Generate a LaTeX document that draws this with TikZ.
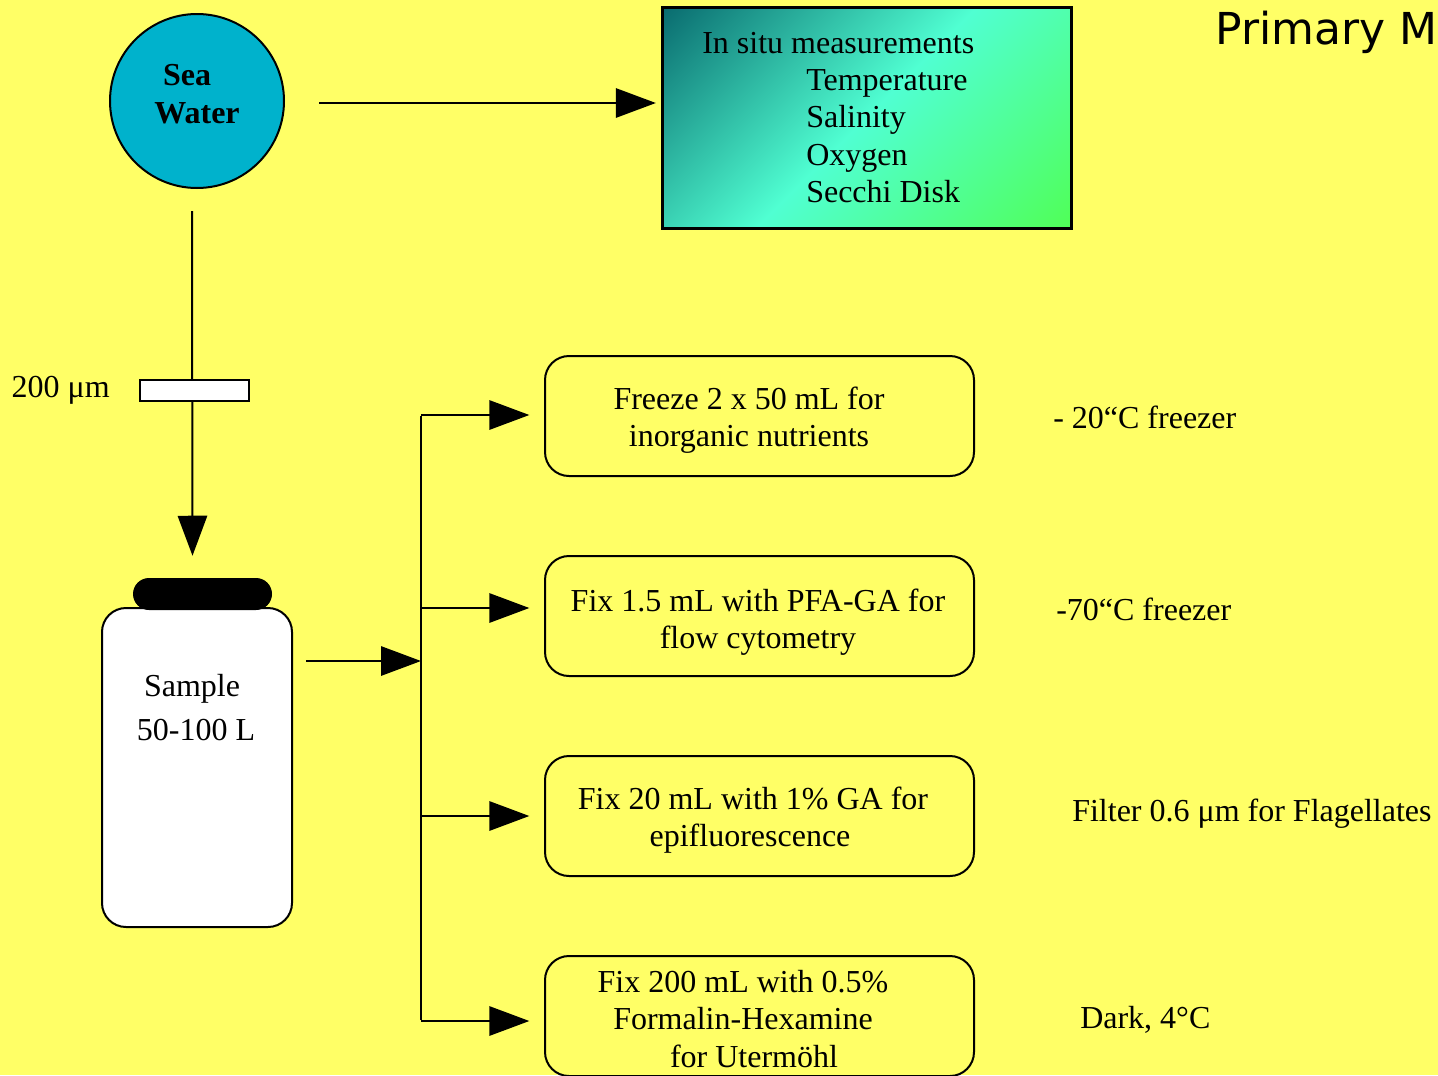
\documentclass[tikz,border=0pt]{standalone}
\usepackage{fontspec}
\setmainfont{Liberation Serif}
\newfontfamily\titlefont{DejaVu Sans}
\usepackage{tikz}
\usetikzlibrary{calc}
\usetikzlibrary{positioning}
\usetikzlibrary{arrows.meta}

\definecolor{slideyellow}{RGB}{255,255,102}
\definecolor{seacyan}{RGB}{0,178,204}
\definecolor{deepteal}{RGB}{0,88,98}
\definecolor{aquamint}{RGB}{80,255,210}
\definecolor{leafgreen}{RGB}{80,255,64}
\pgfdeclareverticalshading{insituglow}{100bp}{color(0bp)=(leafgreen); color(8bp)=(leafgreen); color(50bp)=(aquamint); color(90bp)=(deepteal); color(100bp)=(deepteal)}

\begin{document}
\begin{tikzpicture}[x=0.75pt,y=0.75pt,yscale=-1,xscale=1,
    txt/.style={font=\fontsize{24}{28}\selectfont},
    stepbox/.style={draw, line width=1.5pt, rounded corners=18pt, minimum width=321.75pt,
        minimum height=90pt, inner sep=0pt},
    boxtext/.style={align=center, inner sep=0pt, txt},
    note/.style={anchor=west, inner sep=0pt, txt},
    arr/.style={line width=1.5pt, -{Triangle[length=30pt,width=22pt]}},
    bus/.style={line width=1.5pt}]

    %set diagram size and slide background
    \useasboundingbox (0,0) rectangle (1438,1075);
    \clip (0,0) rectangle (1438,1075);
    \fill [slideyellow] (0,0) rectangle (1438,1075);

    % Title (cut off at the slide edge)
    \node [anchor=base west, inner sep=0pt, font=\titlefont\fontsize{33}{36}\selectfont] (title) at (1215,44) {Primary M};

    % Sea water
    \node [circle, draw, line width=1.5pt, fill=seacyan, minimum size=130.5pt, inner sep=0pt] (sea) at (197,101) {};
    \node [align=center, inner sep=0pt, font=\bfseries\fontsize{24}{28}\selectfont] (seatext) at (197,94) {Sea\hspace*{15pt}\\Water};

    % In situ box
    \node [draw, line width=2.25pt, shade, shading=insituglow, shading angle=45,
        minimum width=306.75pt, minimum height=165.75pt, inner sep=0pt] (insitu) at (866.5,117.5) {};
    \node [anchor=west, inner sep=0pt, align=left, txt] (insitutext) at (702,117.5)
        {In situ measurements\\ \hspace*{78pt}Temperature\\ \hspace*{78pt}Salinity\\
         \hspace*{78pt}Oxygen\\ \hspace*{78pt}Secchi Disk};
    \draw [arr, shorten <=25.5pt, shorten >=3.5pt] ([yshift=1.5pt]sea.east) -- ([yshift=1.5pt]sea.east -| insitu.west);

    % Sample bottle
    \node [draw, line width=1.5pt, fill=white, rounded corners=18pt, minimum width=142.5pt,
        minimum height=239.25pt, inner sep=0pt] (bottle) at (197,767.5) {};
    \node [fill=black, rounded corners=12pt, minimum width=104.25pt, minimum height=24pt, inner sep=0pt] (cap) at (202.5,594) {};
    \node [align=center, inner sep=0pt, font=\fontsize{24}{33}\selectfont] (sampletext) at (192,708) {Sample\\ \hspace*{6pt}50-100 L};

    % Filter
    \draw [arr] ($(sea.south)+(-5,22)$) -- ($(cap.north)+(-10,-22)$);
    \node [draw, line width=1.5pt, fill=white, minimum width=81.75pt, minimum height=15.75pt, inner sep=0pt] (filter) at (194.5,390.5) {};
    \node [anchor=east, inner sep=0pt, txt] (meshlabel) at (110,390) {200 μm};

    % Treatment boxes
    \node [stepbox] (b1) at (759.5,416) {};
    \node [stepbox] (b2) at (759.5,616) {};
    \node [stepbox] (b3) at (759.5,816) {};
    \node [stepbox] (b4) at (759.5,1016) {};
    \node [boxtext] (t1) at (749,420) {Freeze 2 x 50 mL for\\inorganic nutrients};
    \node [boxtext] (t2) at (758,622) {Fix 1.5 mL with PFA-GA for\\flow cytometry};
    \node [boxtext] (t3) at (750,820) {\hspace*{4.5pt}Fix 20 mL with 1\% GA for\\epifluorescence};
    \node [boxtext] (t4) at (743,1019) {Fix 200 mL with 0.5\%\\Formalin-Hexamine\\ \hspace*{16.5pt}for Utermöhl};

    % Storage notes
    \node [note] (n1) at (1053,417) {- 20“C freezer};
    \node [note] (n2) at (1056,609) {-70“C freezer};
    \node [note] (n3) at (1072,814) {Filter 0.6 μm for Flagellates};
    \node [note] (n4) at (1080,1020) {Dark, 4°C};

    % Distribution
    \coordinate (hub) at (421,661);
    \draw [arr, shorten <=9.75pt] (bottle.east |- hub) -- (hub);
    \foreach \i/\y in {1/415,2/608,3/816,4/1021}
        \coordinate (br\i) at (421,\y);
    \draw [bus] ([yshift=0.75pt]br1) -- ([yshift=-0.75pt]br4);
    \foreach \i in {1,...,4}
        \draw [arr, shorten >=11pt] (br\i) -- (br\i -| b\i.west);

\end{tikzpicture}
\end{document}
